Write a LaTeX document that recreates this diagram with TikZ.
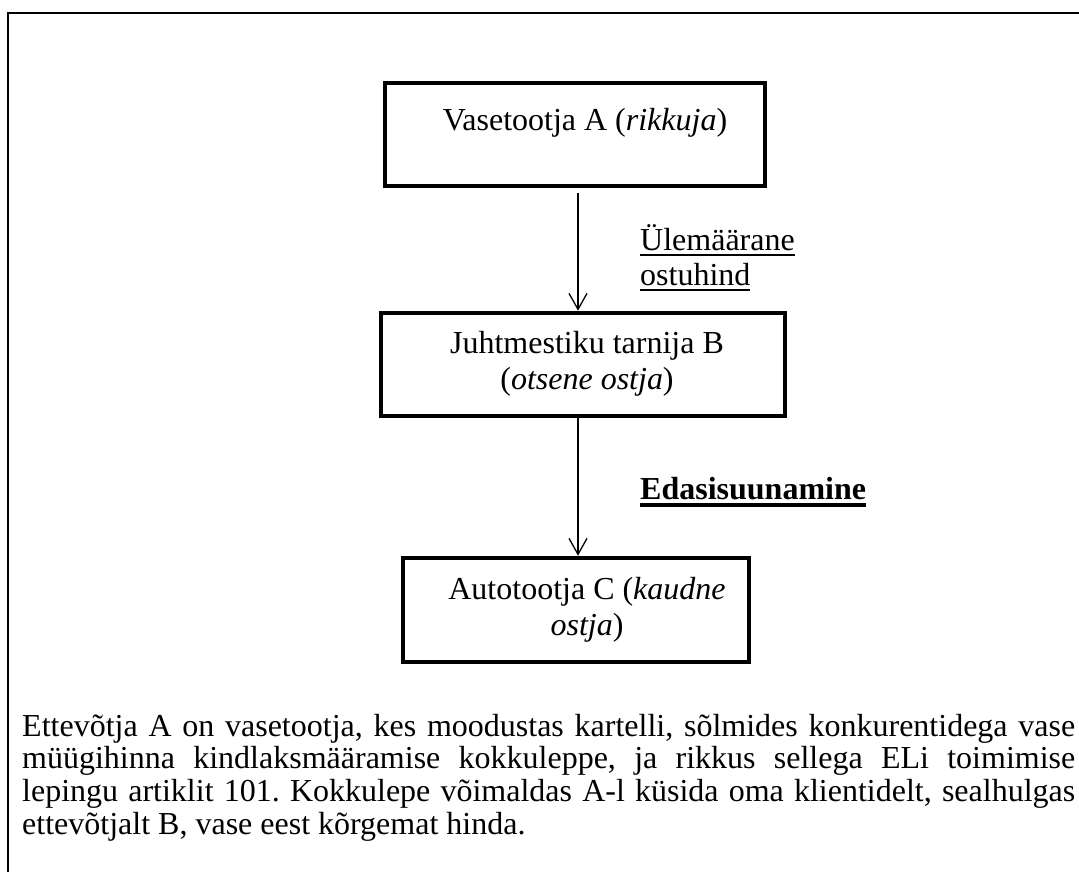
\documentclass[tikz,border=0pt]{standalone}
\usepackage{fontspec}
\setmainfont{Liberation Serif}
\usetikzlibrary{arrows.meta}
\frenchspacing
\newcommand{\ulthin}[1]{\setbox0\hbox{#1}\rlap{\rule[-5.5pt]{\wd0}{1.8pt}}\box0}
\newcommand{\ulthick}[1]{\setbox0\hbox{#1}\rlap{\rule[-7.5pt]{\wd0}{3.6pt}}\box0}
\begin{document}
\begin{tikzpicture}[x=1pt,y=-1pt,
  box/.style={draw, line width=4pt, rectangle, inner sep=0pt},
  txt/.style={font=\fontsize{32}{36}\selectfont, inner sep=0pt, align=center, anchor=base},
  arr/.style={line width=1.3pt, -{Straight Barb[length=16pt,width=18pt]}}]
\useasboundingbox (0,0) rectangle (1079,872);
\draw[line width=2.2pt] (1079,13) -- (8,13) -- (8,872);

\node[box, minimum width=380pt, minimum height=103pt] (A) at (575,134.5) {};
\node[box, minimum width=404pt, minimum height=103.6pt] (B) at (583,364.5) {};
\node[box, minimum width=346pt, minimum height=104.3pt] (C) at (575.7,609.85) {};

\node[txt] (At) at (585,131) {Vasetootja A (\textit{rikkuja})};
\node[txt] (Bt) at (587,389) {Juhtmestiku tarnija B\\(\textit{otsene ostja})};
\node[txt] (Ct) at (587,635) {Autotootja C (\textit{kaudne}\\\textit{ostja})};

\node[txt, anchor=base west, align=left, font=\fontsize{32}{35}\selectfont] (L1) at (640,285) {\ulthin{Ülemäärane}\\\ulthin{ostuhind}};
\node[txt, anchor=base west] (L2) at (640,499) {\bfseries\ulthick{Edasisuunamine}};

\coordinate (ax) at (578,0);
\draw[arr, shorten <=5pt] (A.south -| ax) -- (B.north -| ax);
\draw[arr] (B.south -| ax) -- (C.north -| ax);

\node[anchor=base west, text width=1053pt, inner sep=0pt, align=justify,
      font=\fontsize{32}{32.7}\selectfont] (P) at (22,736)
  {Ettevõtja A on vasetootja, kes moodustas kartelli, sõlmides konkurentidega vase\linebreak
   müügihinna kindlaksmääramise kokkuleppe, ja rikkus sellega ELi toimimise\linebreak
   lepingu artiklit 101. Kokkulepe võimaldas A-l küsida oma klientidelt, sealhulgas\linebreak
   ettevõtjalt B, vase eest kõrgemat hinda.};
\end{tikzpicture}
\end{document}
